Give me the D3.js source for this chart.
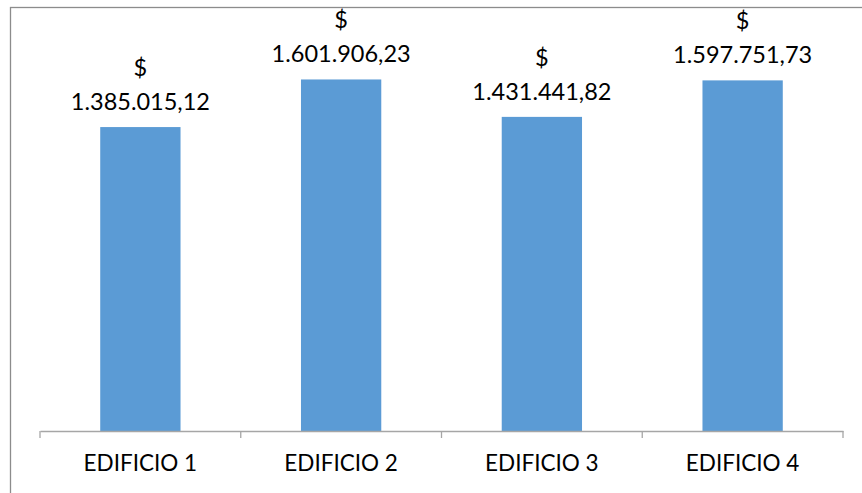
<!DOCTYPE html>
<html>
<head>
<meta charset="utf-8">
<script src="https://cdn.jsdelivr.net/npm/d3@7"></script>
<style>
  html, body { margin: 0; padding: 0; background: #fff; }
  #chart { width: 862px; height: 493px; overflow: hidden; }
  text { font-family: Lato, "Open Sans", sans-serif; fill: #000; }
</style>
</head>
<body>
<div id="chart"></div>
<script>
// Datos del gráfico
const edificios = ['EDIFICIO 1', 'EDIFICIO 2', 'EDIFICIO 3', 'EDIFICIO 4'];
const montos = [1385015.12, 1601906.23, 1431441.82, 1597751.73];
const yMax = 1800000;

const W = 862, H = 493;
const margin = { left: 40, right: 19, top: 36, bottom: 62 };

const svg = d3.select('#chart').append('svg')
  .attr('width', W)
  .attr('height', H);

// Marco (solo se ven borde superior e izquierdo)
svg.append('rect')
  .attr('x', 10.5)
  .attr('y', 7.5)
  .attr('width', W + 20)
  .attr('height', H + 20)
  .attr('fill', 'none')
  .attr('stroke', '#8c8c8c')
  .attr('stroke-width', 1.3);

// Escalas
const x = d3.scaleBand()
  .domain(edificios)
  .range([margin.left, W - margin.right])
  .paddingInner(0.6)
  .paddingOuter(0.3);

const y = d3.scaleLinear()
  .domain([0, yMax])
  .range([H - margin.bottom, margin.top]);

const datos = edificios.map((e, i) => ({ nombre: e, valor: montos[i] }));

// Barras
svg.selectAll('.bar')
  .data(datos)
  .enter()
  .append('rect')
  .attr('class', 'bar')
  .attr('x', d => x(d.nombre))
  .attr('y', d => y(d.valor))
  .attr('width', x.bandwidth())
  .attr('height', d => y(0) - y(d.valor))
  .attr('fill', '#5b9bd5');

// Eje X
const eje = svg.append('g')
  .attr('transform', `translate(0,${y(0)})`)
  .call(d3.axisBottom(x).tickSize(0).tickPadding(24));

eje.select('.domain')
  .attr('stroke', '#a6a6a6')
  .attr('stroke-width', 1.3);

eje.selectAll('.tick text')
  .style('font-size', '22.5px')
  .style('font-family', 'Lato, sans-serif')
  .attr('fill', '#000');

// Marcas entre categorias
const x0 = x.range()[0];
const bordes = d3.range(edificios.length + 1).map(i => x0 + i * x.step());
eje.selectAll('.sep')
  .data(bordes)
  .enter()
  .append('line')
  .attr('class', 'sep')
  .attr('x1', d => d)
  .attr('x2', d => d)
  .attr('y1', 0)
  .attr('y2', 7)
  .attr('stroke', '#a6a6a6')
  .attr('stroke-width', 1.3);

// Etiquetas de valores
const loc = d3.formatLocale({ decimal: ',', thousands: '.', grouping: [3], currency: ['$', ''] });
const fmt = loc.format(',.2f');

const etiquetas = svg.selectAll('.label')
  .data(datos)
  .enter()
  .append('g')
  .attr('class', 'label')
  .attr('transform', d => `translate(${x(d.nombre) + x.bandwidth() / 2},${y(d.valor) - 17})`);

etiquetas.append('text')
  .attr('text-anchor', 'middle')
  .style('font-size', '23.5px')
  .text(d => fmt(d.valor));

etiquetas.append('text')
  .attr('text-anchor', 'middle')
  .attr('y', -34)
  .style('font-size', '23.5px')
  .text('$');
</script>
</body>
</html>
